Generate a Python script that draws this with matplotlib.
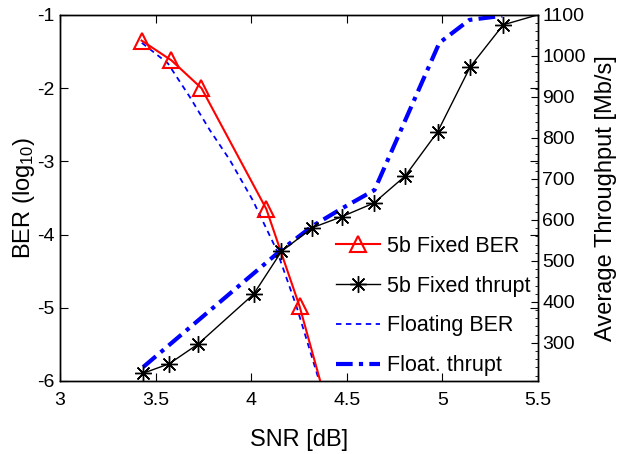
import matplotlib
matplotlib.use("Agg")
import matplotlib.pyplot as plt
from matplotlib.ticker import MultipleLocator
from matplotlib.lines import Line2D

plt.rcParams['font.family'] = ['Liberation Sans', 'DejaVu Sans']
plt.rcParams['mathtext.fontset'] = 'custom'
plt.rcParams['mathtext.rm'] = 'Liberation Sans'
plt.rcParams['mathtext.it'] = 'Liberation Sans'

# ---- data ----
fixed_ber_snr = [3.427, 3.583, 3.740, 4.079, 4.253, 4.415]
fixed_ber = [-1.35, -1.62, -2.00, -3.65, -4.98, -6.51]

float_ber_snr = [3.428, 3.564, 3.679, 3.783, 3.888, 4.008, 4.133, 4.238, 4.415]
float_ber = [-1.38, -1.66, -2.12, -2.57, -2.98, -3.53, -4.21, -4.99, -6.51]

fixed_thr_snr = [3.435, 3.571, 3.722, 4.013, 4.158, 4.320, 4.474, 4.641,
                 4.805, 4.975, 5.146, 5.318, 5.496]
fixed_thr = [226, 249, 297, 419, 523, 581, 608, 641, 707, 815, 974, 1076, 1100]

float_thr_snr = [3.435, 4.158, 4.320, 4.478, 4.645, 4.984, 5.141, 5.313]
float_thr = [241, 527, 585, 629, 673, 1032, 1088, 1098]

xticks = [3, 3.5, 4, 4.5, 5, 5.5]
xticklabels = ['3', '3.5', '4', '4.5', '5', '5.5']
ber_ticks = [-1, -2, -3, -4, -5, -6]
thr_ticks = [300, 400, 500, 600, 700, 800, 900, 1000, 1100]

fig = plt.figure(figsize=(6.24, 4.54), dpi=100)
ax = fig.add_axes([60/624, 1-381/454, (538-60)/624, (381-15)/454])
ax2 = ax.twinx()

asterisk = (8, 2, 0)
red_lw = 1.5

l1, = ax.plot(fixed_ber_snr, fixed_ber, color='red', lw=red_lw, marker='^',
              markersize=12, markerfacecolor='none', markeredgecolor='red',
              markeredgewidth=red_lw, markevery=list(range(5)), zorder=3)
l3, = ax.plot(float_ber_snr, float_ber, color='blue', lw=1.3,
              linestyle=(0, (3, 2.5)), zorder=2)
l2, = ax2.plot(fixed_thr_snr, fixed_thr, color='black', lw=1.0, marker=asterisk,
               markersize=12, markeredgewidth=1.0, markevery=list(range(12)), zorder=3)
l4, = ax2.plot(float_thr_snr, float_thr, color='blue', lw=3.0,
               linestyle=(0, (4, 1.5, 1, 1.5)), zorder=2)

ax.set_xlim(3, 5.5)
ax.set_ylim(-6, -1)
ax2.set_ylim(207, 1100)

ax.set_xticks(xticks)
ax.set_xticklabels(xticklabels)
ax.set_yticks(ber_ticks)
ax.set_yticklabels([str(t) for t in ber_ticks])
ax2.set_yticks(thr_ticks)
ax2.set_yticklabels([str(t) for t in thr_ticks])
ax2.yaxis.set_minor_locator(MultipleLocator(20))

ax.tick_params(axis='both', direction='in', labelsize=14, length=6, width=0.8,
               top=True, right=True, labelright=False)
ax.tick_params(axis='x', pad=8)
ax.tick_params(axis='y', pad=4)
ax2.tick_params(axis='y', which='major', direction='in', labelsize=14, length=5, width=0.8, pad=3)
ax2.tick_params(axis='y', which='minor', direction='in', length=2.5, width=0.6)

for a in (ax, ax2):
    for s in a.spines.values():
        s.set_linewidth(1.0)

ax.set_xlabel('SNR [dB]', fontsize=17, labelpad=14)
ax.set_ylabel('BER (log$_{10}$)', fontsize=17, labelpad=0)
ax2.set_ylabel('Average Throughput [Mb/s]', fontsize=17, labelpad=7)

h1 = Line2D([], [], color='red', lw=red_lw, marker='^', markersize=12,
            markerfacecolor='none', markeredgecolor='red', markeredgewidth=red_lw)
h2 = Line2D([], [], color='black', lw=1.0, marker=asterisk, markersize=12, markeredgewidth=1.0)
h3 = Line2D([], [], color='blue', lw=1.3, linestyle=(0, (3, 2.5)))
h4 = Line2D([], [], color='blue', lw=3.0, linestyle=(0, (4, 1.5, 1, 1.5)))
leg = ax2.legend([h1, h2, h3, h4],
                 ['5b Fixed BER', '5b Fixed thrupt', 'Floating BER', 'Float. thrupt'],
                 loc='lower right', bbox_to_anchor=(539/624, 1-385/454),
                 bbox_transform=fig.transFigure, frameon=False, fontsize=15.5,
                 handlelength=2.05, handletextpad=0.3, labelspacing=0.88,
                 borderaxespad=0)

fig.savefig('out.png', dpi=100)
